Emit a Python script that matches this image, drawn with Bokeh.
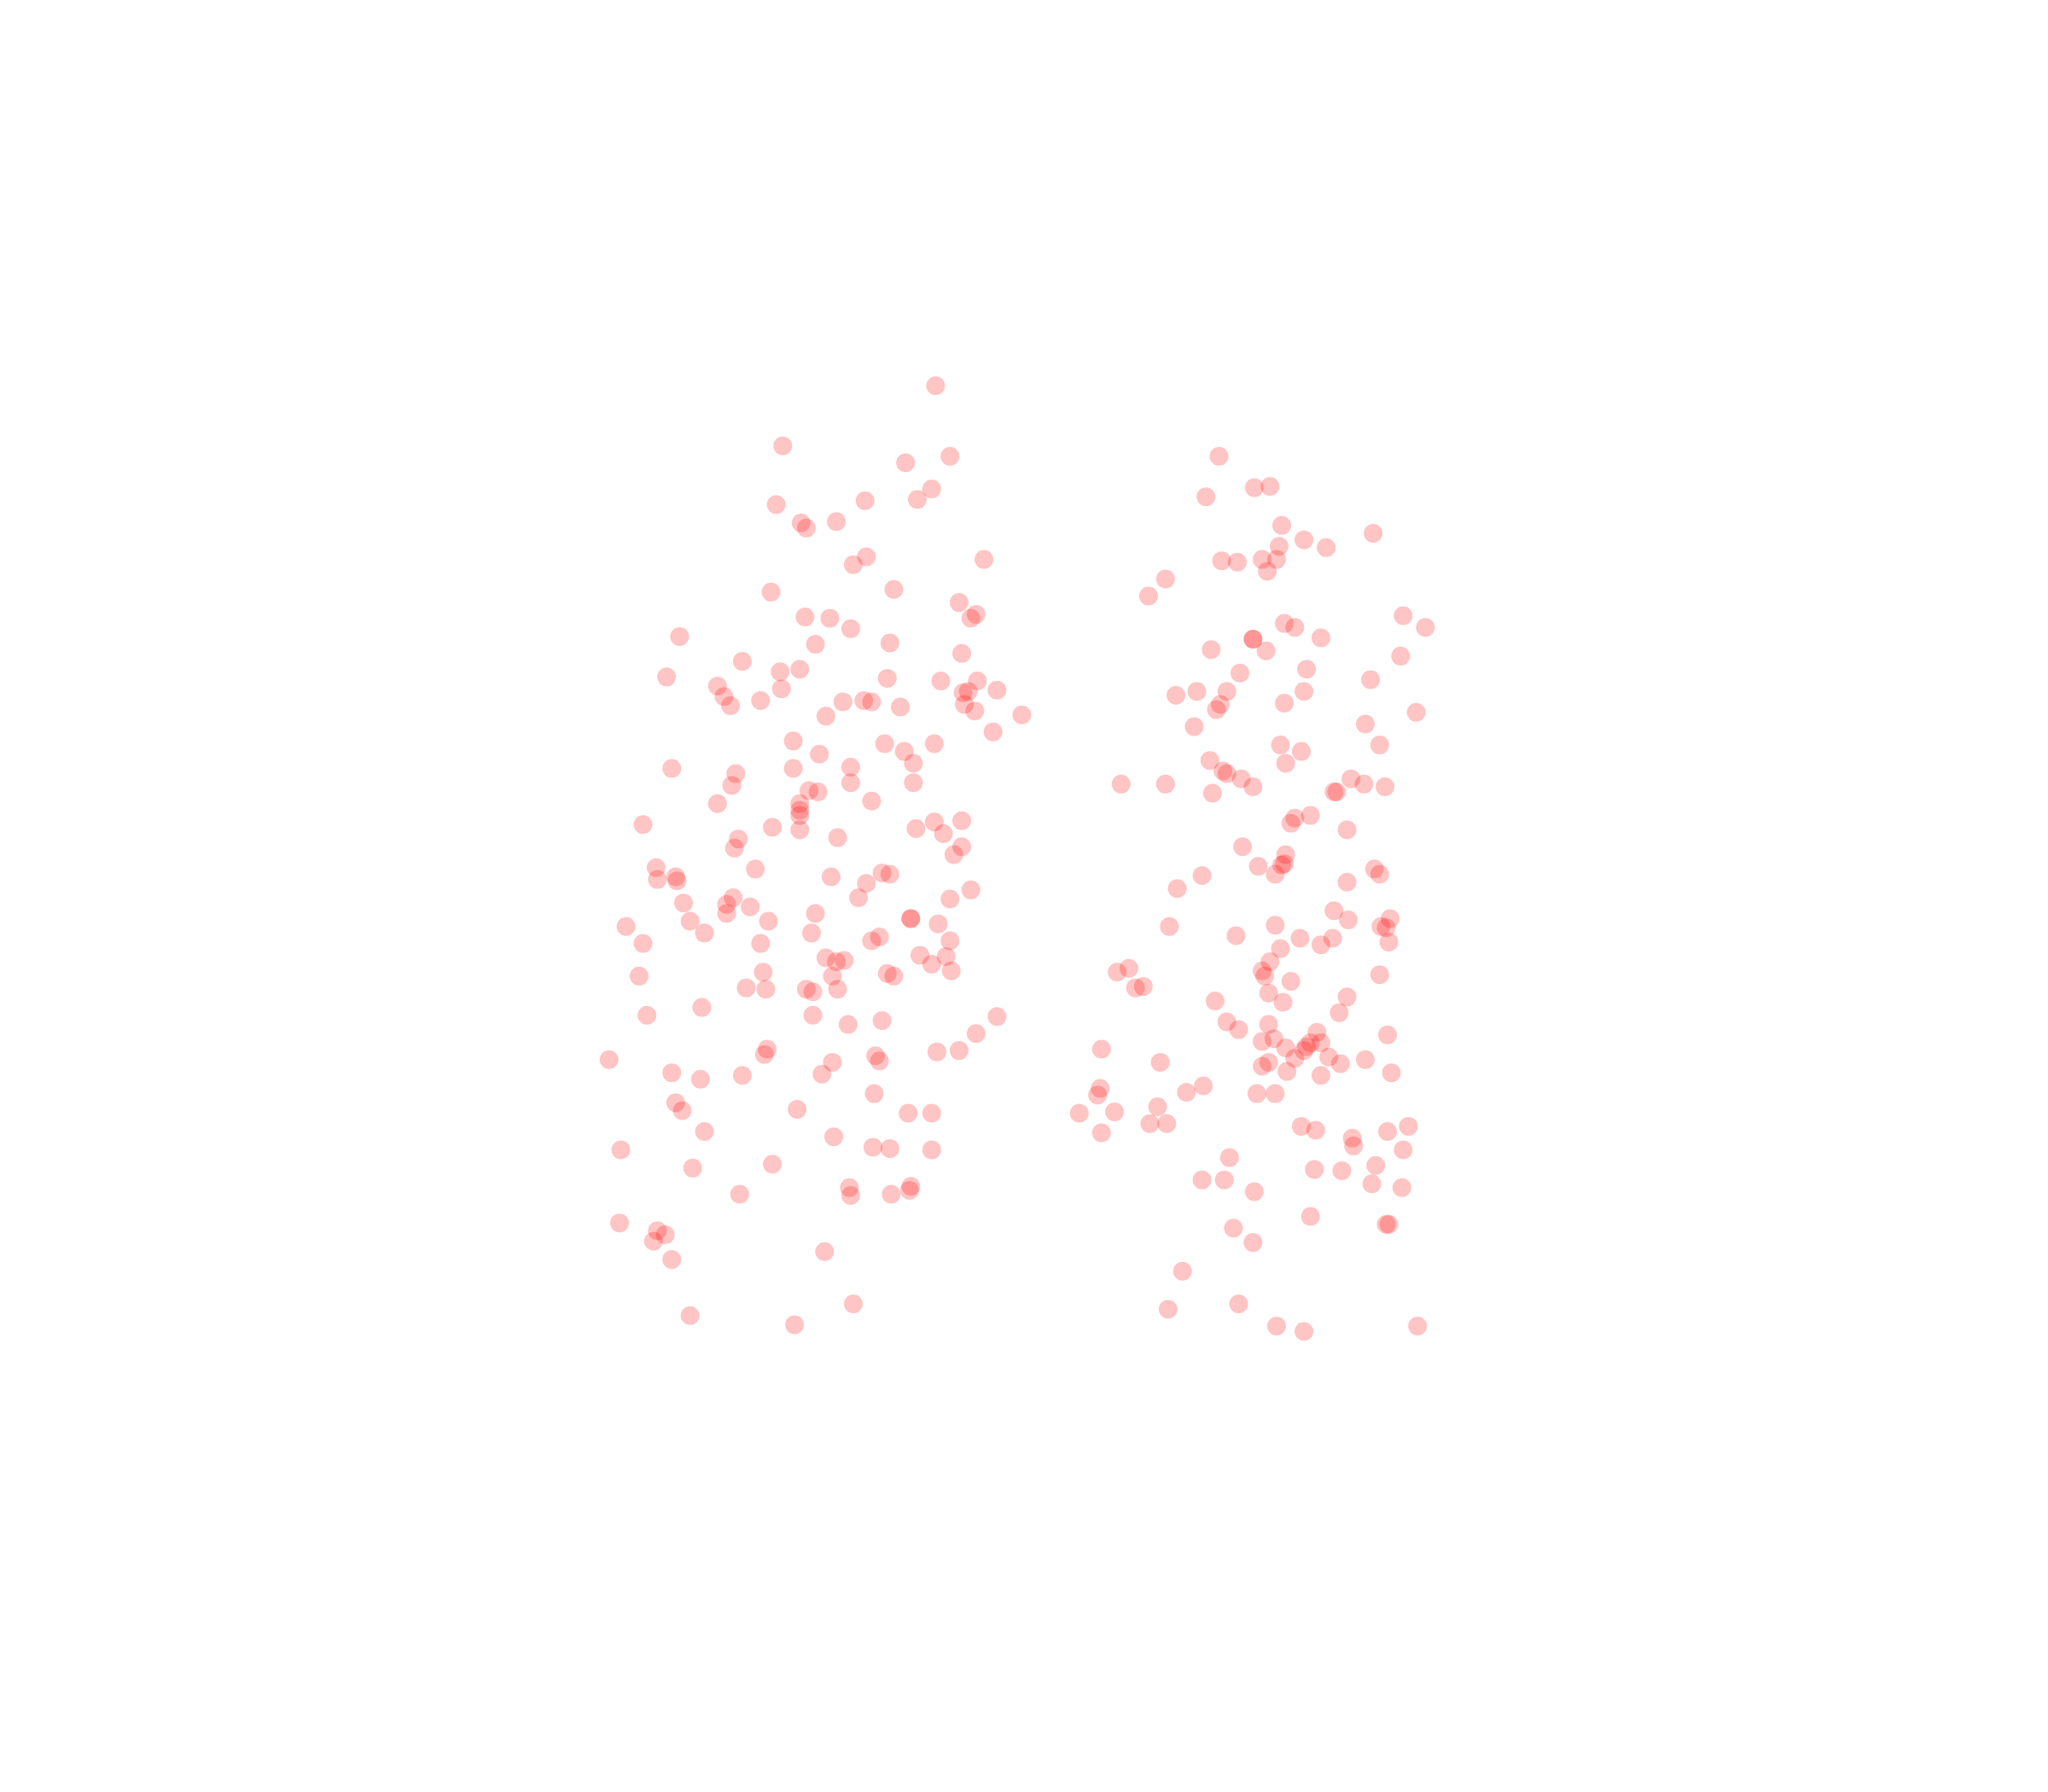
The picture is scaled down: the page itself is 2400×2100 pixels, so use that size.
from bokeh.plotting import figure
from bokeh.models import Range1d
from bokeh.embed import file_html
from bokeh.resources import INLINE

left_x = [716,599,727,693,713,702,662,594,640,613,617,753,663,653,590,684,734,616,635,747,743,651,520,624,681,736,568,597,612,510,549,598,679,720,748,763,737,741,554,559,582,645,661,667,689,738,746,632,782,760,607,677,715,627,692,699,607,651,514,563,560,651,699,619,626,667,549,612,612,612,492,715,736,591,612,701,722,641,565,562,736,730,578,502,517,503,518,636,675,681,663,743,657,727,561,523,556,556,574,624,697,697,588,528,718,479,539,621,667,673,727,492,582,704,724,632,640,646,713,728,584,679,684,489,637,641,571,586,617,622,537,495,622,649,675,763,747,587,585,717,734,670,673,637,466,629,514,536,568,669,517,522,610,695,713,539,638,668,681,713,475,530,591,650,651,566,682,697,696,474,503,509,500,631,514,653,528,608]
left_y = [295,341,349,354,374,382,383,386,399,400,404,428,426,432,453,451,461,472,473,470,473,481,487,493,492,500,506,514,512,518,525,527,519,521,521,528,530,529,533,540,536,537,536,537,541,539,544,548,547,560,567,569,569,577,575,584,588,587,588,592,601,599,599,605,606,613,615,615,620,624,631,629,628,633,635,634,638,641,642,649,648,654,665,664,671,673,674,671,668,669,676,681,687,688,687,691,692,699,694,699,703,703,705,705,707,709,714,714,720,717,720,722,722,731,732,733,736,735,738,743,744,745,747,747,747,757,756,757,757,759,771,777,777,784,781,778,791,803,807,805,804,808,812,813,811,822,821,826,823,837,844,850,849,852,852,866,870,878,879,880,880,894,891,909,915,914,914,908,911,936,942,945,950,958,964,998,1007,1014]
right_x = [933,960,972,923,981,998,979,1015,1051,935,947,966,977,970,892,879,1074,1091,983,991,959,959,1011,927,969,1072,1000,949,1049,900,916,939,998,983,934,931,1084,914,1045,980,1056,996,926,984,936,939,950,1034,858,892,1044,959,1060,928,1021,1023,1003,991,988,1031,951,984,963,983,981,1052,1056,920,976,1031,901,1021,1032,1064,895,976,1057,1061,946,995,1020,1063,1011,980,972,966,968,855,864,1056,988,869,875,971,1031,930,982,1025,971,939,948,1008,1062,975,966,1011,1003,1000,984,998,843,1017,991,1045,888,971,966,1026,985,1065,1011,921,842,840,908,962,976,853,826,886,880,893,843,996,1007,1078,1062,1035,1036,1074,941,1053,1006,1027,920,937,1050,1073,960,1003,1061,1063,944,959,905,948,894,977,998,1085]
right_y = [349,373,372,380,402,413,418,419,408,429,430,428,428,437,443,456,471,480,477,480,489,489,488,497,498,502,512,515,520,532,529,529,529,538,539,543,545,556,554,570,570,575,582,584,590,592,596,596,600,600,600,602,602,607,606,606,624,626,630,635,648,654,663,661,662,665,669,670,669,675,680,697,704,703,709,708,709,710,716,718,718,721,723,726,736,743,747,744,741,746,751,756,755,760,763,766,767,775,784,782,788,790,792,795,797,798,798,801,802,804,803,809,810,811,813,813,816,814,820,821,823,831,833,838,836,837,837,851,852,847,860,860,867,862,865,862,866,871,877,880,886,892,895,896,903,903,906,909,912,931,937,937,940,951,973,998,1002,1015,1019,1015]

SCALE = 2400 / 1568
p = figure(width=2384, height=2084, output_backend="svg", toolbar_location=None,
           x_range=Range1d(0, 2384 / SCALE),
           y_range=Range1d(2084 / SCALE, 0),
           min_border=0, outline_line_color=None, background_fill_color="white")
p.axis.visible = False
p.grid.visible = False
for xs, ys in ((left_x, left_y), (right_x, right_y)):
    p.scatter(xs, ys, size=22, fill_color="#ff0000", fill_alpha=0.23, line_color=None)

open("out.html", "w").write(file_html(p, INLINE))
